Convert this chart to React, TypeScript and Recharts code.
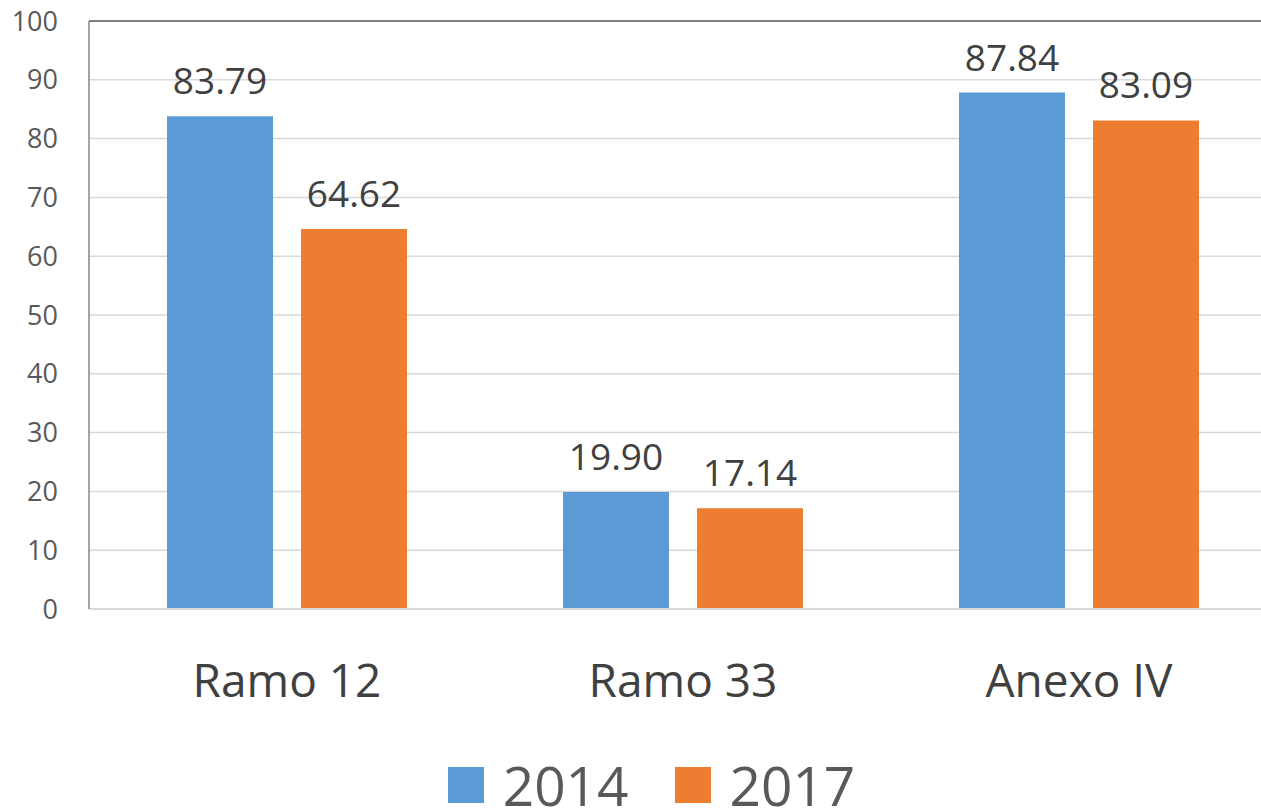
import React from "react";
import { BarChart, Bar, XAxis, YAxis, CartesianGrid, Legend, LabelList, ReferenceLine } from "recharts";

const categories = ["Ramo 12", "Ramo 33", "Anexo IV"];
const values2014 = [83.79, 19.9, 87.84];
const values2017 = [64.62, 17.14, 83.09];
const yTicks = [0, 10, 20, 30, 40, 50, 60, 70, 80, 90, 100];
const seriesNames = ["2014", "2017"];
const colors = ["#5B9BD5", "#ED7D31"];

const data = categories.map((c, i) => ({ name: c, a: values2014[i], b: values2017[i] }));

const FONT = "'Open Sans', sans-serif";

const LegendContent = () => (
  <div
    style={{
      height: 83,
      boxSizing: "border-box",
      paddingTop: 29,
      display: "flex",
      justifyContent: "center",
      alignItems: "center",
      fontFamily: FONT,
      fontSize: 55,
      lineHeight: "52px",
      color: "#595959",
    }}
  >
    {seriesNames.map((n, i) => (
      <div key={n} style={{ display: "flex", alignItems: "center", marginLeft: i === 0 ? 0 : 46 }}>
        <div style={{ width: 36, height: 36, background: colors[i], marginRight: 19 }} />
        <span>{n}</span>
      </div>
    ))}
  </div>
);

export default function App() {
  return (
    <div style={{ position: "fixed", left: 0, top: 0, width: 1261, height: 812, overflow: "hidden", background: "#fff" }}>
      <BarChart
        width={1303}
        height={812}
        data={data}
        margin={{ top: 21, right: 26, left: 0, bottom: 0 }}
        barSize={106}
        barGap={28}
      >
        <CartesianGrid vertical={false} stroke="#d9d9d9" strokeWidth={1.5} />
        <XAxis
          dataKey="name"
          height={120}
          tickLine={false}
          tickSize={0}
          tickMargin={55}
          axisLine={{ stroke: "#d9d9d9", strokeWidth: 2 }}
          tick={{ fontFamily: FONT, fontSize: 46, fill: "#404040" }}
        />
        <YAxis
          width={89}
          domain={[0, 100]}
          ticks={yTicks}
          interval={0}
          tickLine={false}
          tickSize={0}
          tickMargin={31}
          axisLine={{ stroke: "#868686", strokeWidth: 1.5 }}
          tick={{ fontFamily: FONT, fontSize: 27, fill: "#595959" }}
        />
        <ReferenceLine y={100} stroke="#808080" strokeWidth={2} />
        <Legend verticalAlign="bottom" content={<LegendContent />} wrapperStyle={{ left: 0, width: 1303 }} />
        <Bar dataKey="a" name={seriesNames[0]} fill={colors[0]} isAnimationActive={false}>
          <LabelList
            dataKey="a"
            position="top"
            offset={22}
            formatter={(v: number) => v.toFixed(2)}
            style={{ fontFamily: FONT, fontSize: 37, fill: "#404040" }}
          />
        </Bar>
        <Bar dataKey="b" name={seriesNames[1]} fill={colors[1]} isAnimationActive={false}>
          <LabelList
            dataKey="b"
            position="top"
            offset={22}
            formatter={(v: number) => v.toFixed(2)}
            style={{ fontFamily: FONT, fontSize: 37, fill: "#404040" }}
          />
        </Bar>
      </BarChart>
    </div>
  );
}
